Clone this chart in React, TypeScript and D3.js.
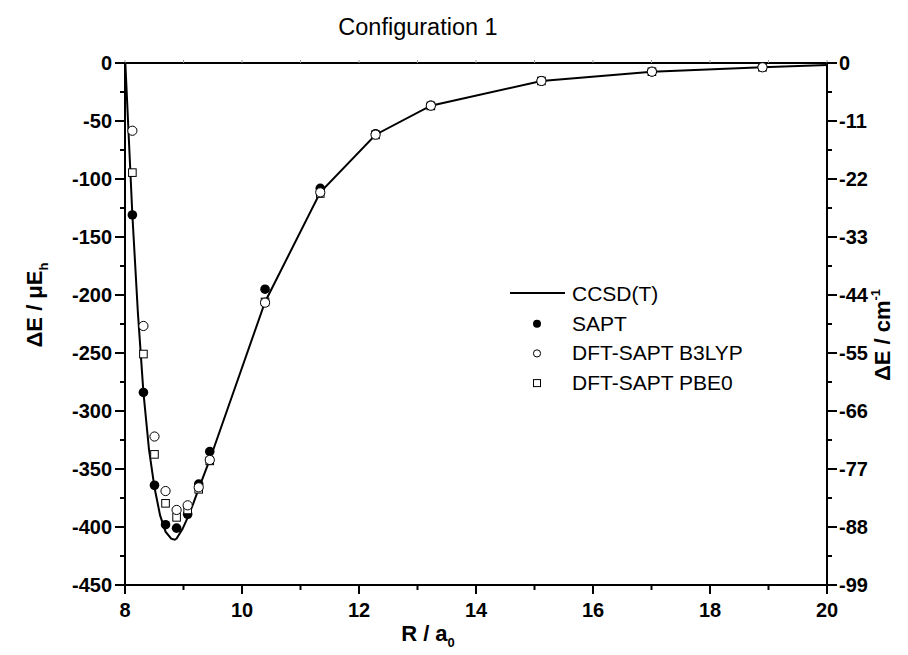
import React from "react";
import * as d3 from "d3";

// ---- data ----
const R_GRID = [8.126, 8.315, 8.504, 8.693, 8.882, 9.071, 9.26, 9.449, 10.394, 11.338, 12.283, 13.228, 15.118, 17.007, 18.897];
const SAPT = [-131, -284, -364, -398, -401, -389, -363, -335, -195, -108, -61, -36.5, -15.3, -7.4, -3.6];
const B3LYP = [-58.4, -226.7, -322, -369, -385.3, -381.3, -365.8, -342.2, -206.6, -111.5, -61.8, -36.8, -15.5, -7.5, -3.7];
const PBE0 = [-94.5, -250.9, -337.4, -379.6, -391.7, -385.3, -367.5, -343, -206, -112.5, -62, -37, -15.5, -7.5, -3.7];
const CCSD_R = [7.937, 8.126, 8.22, 8.315, 8.41, 8.504, 8.6, 8.693, 8.79, 8.85, 8.882, 8.98, 9.071, 9.165, 9.26, 9.449, 10.394, 11.338, 12.283, 13.228, 15.118, 17.007, 18.897, 20.0];
const CCSD_E = [75, -131, -215, -284, -333, -366, -390, -404, -410, -411, -410, -402, -392, -380, -367, -342, -206, -111.5, -61.8, -36.8, -15.5, -7.5, -3.7, -1.8];

const X_TICKS = [8, 10, 12, 14, 16, 18, 20];
const Y_TICKS = [0, -50, -100, -150, -200, -250, -300, -350, -400, -450];
const Y_RIGHT_LABELS = ["0", "-11", "-22", "-33", "-44", "-55", "-66", "-77", "-88", "-99"];
const LEGEND = ["CCSD(T)", "SAPT", "DFT-SAPT B3LYP", "DFT-SAPT PBE0"];

const W = 908, H = 655;
const L = 125, Rt = 827, T = 63, B = 585;
const FONT = "'Liberation Sans', Arial, sans-serif";

export default function App() {
  const x = d3.scaleLinear().domain([8, 20]).range([L, Rt]);
  const y = d3.scaleLinear().domain([0, -450]).range([T, B]);
  const line = d3.line<number>().x((_, i) => x(CCSD_R[i])).y((d) => y(d)).curve(d3.curveLinear);
  const xMinor = d3.range(8, 21, 1);
  const yMinor = d3.range(0, -451, -25);
  const pts = (vals: number[]) => vals.map((v, i) => ({ x: x(R_GRID[i]), y: y(v) }));

  return (
    <svg width={W} height={H} style={{ position: "absolute", left: 0, top: 0, background: "#fff" }} fontFamily={FONT}>
      <defs>
        <clipPath id="plotclip">
          <rect x={L} y={T} width={Rt - L} height={B - T} />
        </clipPath>
      </defs>
      <rect x={0} y={0} width={W} height={H} fill="#fff" />
      {/* title */}
      <text x={418} y={35} textAnchor="middle" fontSize={23.5}>Configuration 1</text>

      {/* frame */}
      <rect x={L} y={T} width={Rt - L} height={B - T} fill="none" stroke="#000" strokeWidth={2} />

      {/* bottom ticks */}
      {xMinor.map((v) => (
        <line key={"bx" + v} x1={x(v)} x2={x(v)} y1={B} y2={B + (v % 2 === 0 ? 9 : 5)} stroke="#000" strokeWidth={2} />
      ))}
      {xMinor.map((v) => (
        <line key={"tx" + v} x1={x(v)} x2={x(v)} y1={T} y2={T - 3} stroke="#999" strokeWidth={1} />
      ))}
      {X_TICKS.map((v) => (
        <text key={"xl" + v} x={x(v)} y={B + 32} textAnchor="middle" fontSize={20} fontWeight="bold">{v}</text>
      ))}

      {/* left ticks */}
      {yMinor.map((v) => (
        <line key={"ly" + v} x1={L} x2={L - (v % 50 === 0 ? 10 : 5)} y1={y(v)} y2={y(v)} stroke="#000" strokeWidth={2} />
      ))}
      {Y_TICKS.map((v) => (
        <text key={"yl" + v} x={L - 13} y={y(v) + 7} textAnchor="end" fontSize={20} fontWeight="bold">{v}</text>
      ))}
      {/* right ticks */}
      {yMinor.map((v) => (
        <line key={"ry" + v} x1={Rt} x2={Rt + (v % 50 === 0 ? 10 : 5)} y1={y(v)} y2={y(v)} stroke="#000" strokeWidth={2} />
      ))}
      {Y_TICKS.map((v, i) => (
        <text key={"yr" + v} x={Rt + 12} y={y(v) + 7} textAnchor="start" fontSize={20} fontWeight="bold">{Y_RIGHT_LABELS[i]}</text>
      ))}

      {/* axis titles */}
      <text transform={`translate(42,305) rotate(-90)`} textAnchor="middle" fontSize={22} fontWeight="bold">
        ΔE / μE<tspan fontSize={13} dy={6}>h</tspan>
      </text>
      <text transform={`translate(890,335) rotate(-90)`} textAnchor="middle" fontSize={22} fontWeight="bold">
        ΔE / cm<tspan fontSize={13} dy={-10}>-1</tspan>
      </text>
      <text x={428} y={641} textAnchor="middle" fontSize={22} fontWeight="bold">
        R / a<tspan fontSize={13} dy={6}>0</tspan>
      </text>

      {/* data */}
      <g clipPath="url(#plotclip)">
        <path d={line(CCSD_E) ?? ""} fill="none" stroke="#000" strokeWidth={2} />
      </g>
      {pts(SAPT).map((p, i) => (
        <circle key={"s" + i} cx={p.x} cy={p.y} r={4.8} fill="#000" />
      ))}
      {pts(PBE0).map((p, i) => (
        <rect key={"p" + i} x={p.x - 3.8} y={p.y - 3.8} width={7.6} height={7.6} fill="#fff" stroke="#000" strokeWidth={1} />
      ))}
      {pts(B3LYP).map((p, i) => (
        <circle key={"b" + i} cx={p.x} cy={p.y} r={4.6} fill="#fff" stroke="#000" strokeWidth={1} />
      ))}

      {/* legend */}
      {LEGEND.map((name, i) => {
        const ly = 293 + i * 29.7;
        return (
          <g key={name}>
            {i === 0 && <line x1={510} x2={565} y1={ly} y2={ly} stroke="#000" strokeWidth={2} />}
            {i === 1 && <circle cx={537} cy={ly + 1} r={4} fill="#000" />}
            {i === 2 && <circle cx={537} cy={ly + 1} r={3.6} fill="#fff" stroke="#000" strokeWidth={1} />}
            {i === 3 && <rect x={533.5} y={ly - 2.5} width={7} height={7} fill="#fff" stroke="#000" strokeWidth={1} />}
            <text x={572} y={ly + 8} fontSize={21}>{name}</text>
          </g>
        );
      })}
    </svg>
  );
}
